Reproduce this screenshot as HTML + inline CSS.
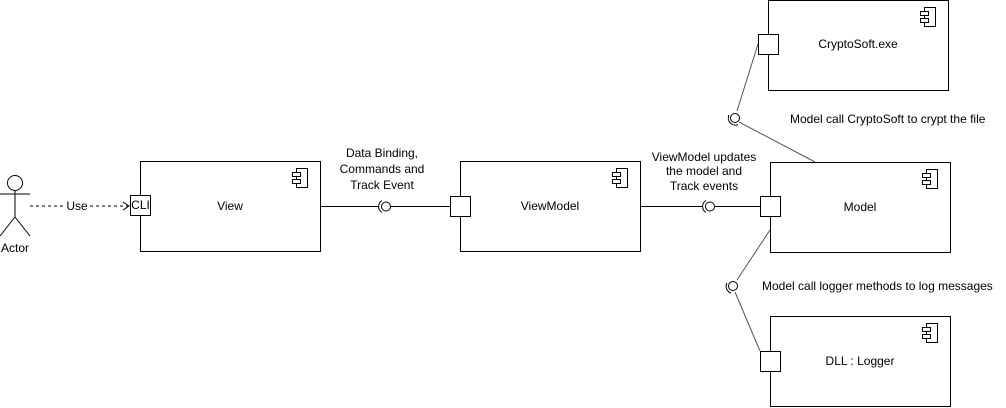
<!DOCTYPE html>
<html><head><meta charset="utf-8"><style>
html,body{margin:0;padding:0;background:#fff;}
svg{display:block;}
text{font-family:"Liberation Sans",Arial,sans-serif;font-size:12px;fill:#000;}
</style></head><body>
<svg width="1006" height="408" viewBox="0 0 1006 408" xmlns="http://www.w3.org/2000/svg">
<defs>
<g id="ic" fill="#fff" stroke="#000" stroke-width="1">
<rect x="4" y="0" width="11" height="19"/>
<rect x="0" y="4" width="8" height="4"/>
<rect x="0" y="11" width="8" height="4"/>
</g>
</defs>
<g stroke="#000" stroke-width="1" fill="none">
<circle cx="15" cy="183" r="7.5" fill="#fff"/>
<line x1="15" y1="190.5" x2="15" y2="217"/>
<line x1="0" y1="194" x2="30" y2="194"/>
<line x1="15" y1="217" x2="0" y2="236"/>
<line x1="15" y1="217" x2="30" y2="236"/>
</g>
<text x="15" y="252" text-anchor="middle">Actor</text>
<line x1="30" y1="206" x2="128" y2="206" stroke="#000" stroke-dasharray="3,3"/>
<polyline points="123,202 129,206 123,210" fill="none" stroke="#000"/>
<rect x="66" y="199" width="22" height="14" fill="#fff"/>
<text x="77" y="210" text-anchor="middle" font-size="11">Use</text>

<g fill="#fff" stroke="#000" stroke-width="1">
<rect x="140.5" y="161.5" width="180" height="90"/>
<rect x="460.5" y="161.5" width="180" height="90"/>
<rect x="770.5" y="162.5" width="180" height="90"/>
<rect x="768.5" y="0.5" width="180" height="90"/>
<rect x="770.5" y="316.5" width="180" height="90"/>
</g>
<use href="#ic" x="292.5" y="168.5"/>
<use href="#ic" x="612.5" y="168.5"/>
<use href="#ic" x="922.5" y="169.5"/>
<use href="#ic" x="920.5" y="7.5"/>
<use href="#ic" x="922.5" y="323.5"/>
<text x="230" y="210" text-anchor="middle">View</text>
<text x="550" y="210" text-anchor="middle">ViewModel</text>
<text x="860" y="211" text-anchor="middle">Model</text>
<text x="858" y="48" text-anchor="middle">CryptoSoft.exe</text>
<text x="860" y="365" text-anchor="middle">DLL : Logger</text>

<g stroke="#000" fill="none" stroke-width="1">
<line x1="320" y1="206.5" x2="379" y2="206.5"/>
<line x1="390" y1="206.5" x2="450" y2="206.5"/>
<path d="M382,200.5 A7,7 0 0 0 382,212.5"/>
<circle cx="386" cy="206.5" r="4.5"/>
<line x1="640" y1="206.5" x2="703" y2="206.5"/>
<line x1="714" y1="206.5" x2="760" y2="206.5"/>
<path d="M706,200.5 A7,7 0 0 0 706,212.5"/>
<circle cx="710" cy="206.5" r="4.5"/>
</g>
<g stroke="#555" fill="none" stroke-width="1">
<line x1="758" y1="44" x2="737" y2="111"/>
<line x1="739" y1="122" x2="815" y2="162"/>
<circle cx="735" cy="118" r="4.5" stroke="#000"/>
<path d="M729,115 A7,7 0 0 0 738,124.5" stroke="#000"/>
<line x1="770" y1="230" x2="737" y2="280"/>
<line x1="735" y1="292" x2="760" y2="351"/>
<circle cx="733" cy="286" r="4.5" stroke="#000"/>
<path d="M727,283 A7,7 0 0 0 731,293" stroke="#000"/>
</g>
<g fill="#fff" stroke="#000" stroke-width="1">
<rect x="130.5" y="195.5" width="20" height="20"/>
<rect x="450.5" y="196.5" width="20" height="20"/>
<rect x="760.5" y="196.5" width="20" height="20"/>
<rect x="758.5" y="34.5" width="20" height="20"/>
<rect x="760.5" y="351.5" width="20" height="20"/>
</g>
<text x="140.5" y="209" text-anchor="middle" font-size="9">CLI</text>
<text x="382" y="157" text-anchor="middle">Data Binding,</text>
<text x="382" y="173" text-anchor="middle">Commands and</text>
<text x="382" y="189" text-anchor="middle">Track Event</text>
<text x="704" y="161" text-anchor="middle">ViewModel updates</text>
<text x="704" y="175" text-anchor="middle">the model and</text>
<text x="704" y="190" text-anchor="middle">Track events</text>
<text x="790" y="123">Model call CryptoSoft to crypt the file</text>
<text x="762" y="290">Model call logger methods to log messages</text>
</svg>
</body></html>
